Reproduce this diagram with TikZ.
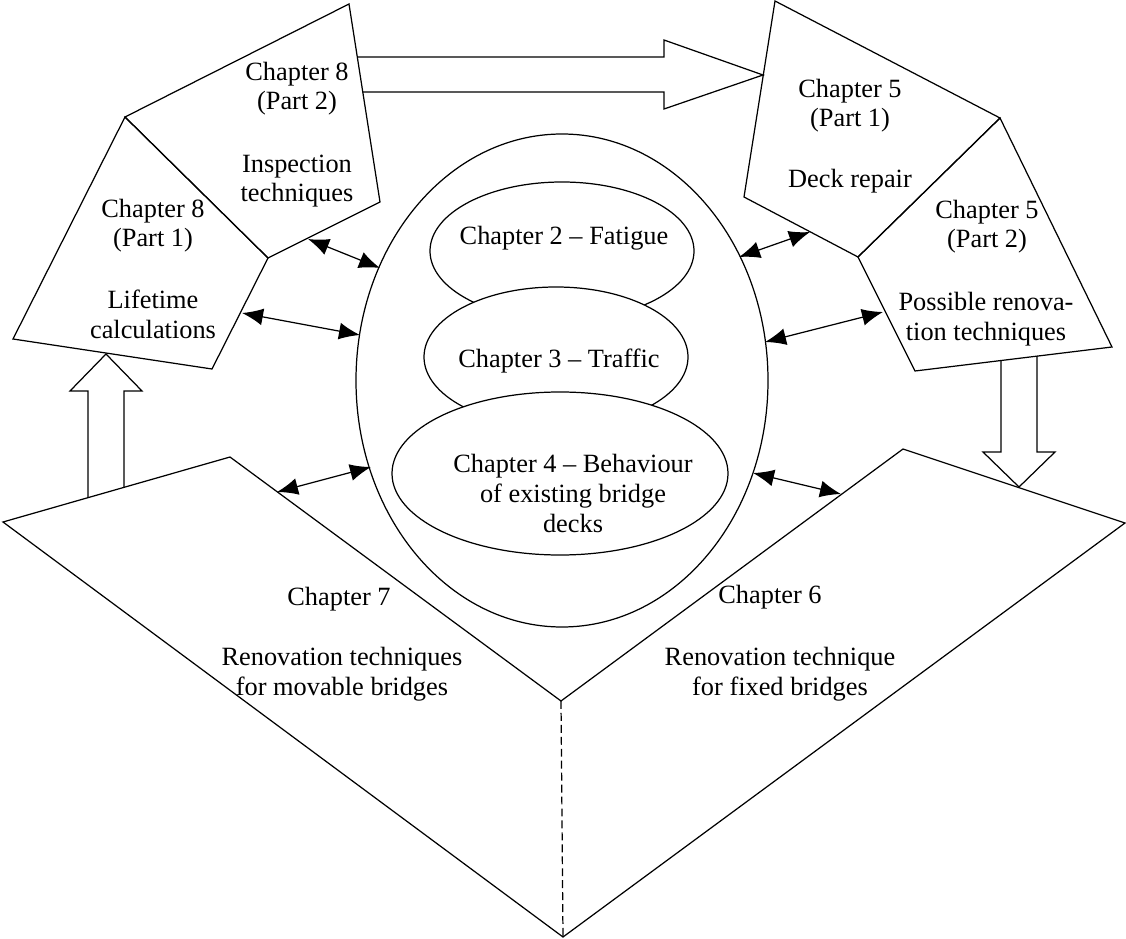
\documentclass[tikz,border=0pt]{standalone}
\usepackage{fontspec}
\setmainfont{Liberation Serif}
\usepackage{tikz}
\usetikzlibrary{arrows.meta}

\begin{document}
\begin{tikzpicture}[x=0.02cm, y=-0.02cm, line width=0.7pt, line join=miter,
    txt/.style={align=center, anchor=base, inner sep=0pt, font=\fontsize{15}{17}\selectfont},
    link/.style={{Latex[length=0.42cm,width=0.34cm]}-{Latex[length=0.42cm,width=0.34cm]}},
    hidden/.style={dash pattern=on 4.5pt off 2.3pt}]
    \useasboundingbox (0,0) rectangle (1126,939);

    % corners shared by two pieces
    \coordinate (k8) at (125,117);
    \coordinate (m8) at (268,258);
    \coordinate (k5) at (1000,118);
    \coordinate (m5) at (858,257);
    \coordinate (vtop) at (561,701);
    \coordinate (vbot) at (563,937);

    % Chapter 8, both parts
    \draw (k8) -- (349,4) -- (380,202) -- (m8) -- cycle;
    \draw (k8) -- (m8) -- (212,369) -- (13,339) -- cycle;
    % Chapter 5, both parts
    \draw (775,1) -- (k5) -- (m5) -- (744,197) -- cycle;
    \draw (k5) -- (1112,347) -- (915,371) -- (m5) -- cycle;
    % Chapters 7 and 6
    \draw (vtop) -- (230,457) -- (3,522) -- (vbot) -- (1125,523) -- (903,449) -- cycle;
    \draw[hidden] (vtop) -- (vbot);

    % core chapters
    \draw (562,380.5) ellipse [x radius=206, y radius=246.5];
    \draw[fill=white] (562,251) ellipse [x radius=132, y radius=69];
    \draw[fill=white] (556,357) ellipse [x radius=132, y radius=70];
    \draw[fill=white] (560,473.5) ellipse [x radius=168, y radius=81.5];

    % wide arrows
    \draw (358,57) -- (664,57) -- (664,40) -- (763,75) -- (664,109) -- (664,92) -- (363,92);
    \draw (88,497) -- (88,391) -- (70,391) -- (106,354) -- (142,391) -- (124,391) -- (124,487);
    \draw (1001,360) -- (1001,452) -- (983,452) -- (1019,487) -- (1055,452) -- (1037,452) -- (1037,356);

    \node (t8b) [txt] at (297,110) {Chapter 8\\(Part 2)};
    \node (d8b) [txt] at (297,202) {Inspection\\techniques};
    \node (t8a) [txt] at (153,247) {Chapter 8\\(Part 1)};
    \node (d8a) [txt] at (153,338) {Lifetime\\calculations};
    \node (t5a) [txt] at (850,127) {Chapter 5\\(Part 1)};
    \node (d5a) [txt] at (850,188) {Deck repair};
    \node (t5b) [txt] at (987,248) {Chapter 5\\(Part 2)};
    \node (d5b) [txt] at (986,340) {Possible renova-\\tion techniques};
    \node (ch2) [txt] at (564,245) {Chapter 2 – Fatigue};
    \node (ch3) [txt] at (559,367) {Chapter 3 – Traffic};
    \node (ch4) [txt] at (573,532) {Chapter 4 – Behaviour\\of existing bridge\\decks};
    \node (t7) [txt] at (339,605) {Chapter 7};
    \node (d7) [txt] at (342,695) {Renovation techniques\\for movable bridges};
    \node (t6) [txt] at (770,603) {Chapter 6};
    \node (d6) [txt] at (780,695) {Renovation technique\\for fixed bridges};

    % two-way links to the core
    \coordinate (s8b) at (308,239);
    \coordinate (r8b) at (380,268);
    \coordinate (s8a) at (242,313);
    \coordinate (r8a) at (360,335);
    \coordinate (s5a) at (810,232);
    \coordinate (r5a) at (739,257);
    \coordinate (s5b) at (883,312);
    \coordinate (r5b) at (765,342);
    \coordinate (s7) at (277,492);
    \coordinate (r7) at (371,467);
    \coordinate (s6) at (841,494);
    \coordinate (r6) at (753,473);
    \draw[link] (s8b) -- (r8b);
    \draw[link] (s8a) -- (r8a);
    \draw[link] (s5a) -- (r5a);
    \draw[link] (s5b) -- (r5b);
    \draw[link] (s7) -- (r7);
    \draw[link] (s6) -- (r6);
\end{tikzpicture}
\end{document}
